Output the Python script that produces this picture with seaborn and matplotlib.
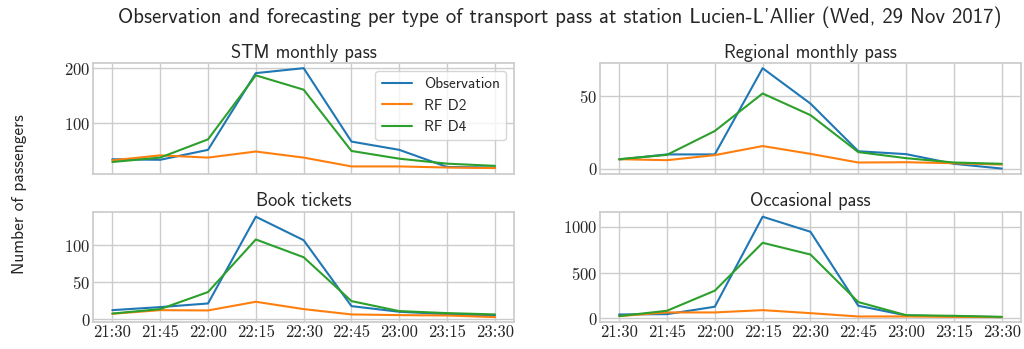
import matplotlib
matplotlib.use("Agg")
import matplotlib.pyplot as plt
import numpy as np
import pandas as pd
import seaborn as sns

# Time slots (15-minute intervals)
times = ["21:30", "21:45", "22:00", "22:15", "22:30", "22:45", "23:00", "23:15", "23:30"]

# STM monthly pass
stm_obs = [35, 34, 52, 191, 200, 67, 52, 21, 20]
stm_d2 = [33, 42, 38, 49, 38, 22, 22, 20, 19]
stm_d4 = [30, 38, 71, 187, 161, 50, 36, 27, 23]

# Regional monthly pass
reg_obs = [6.3, 9.8, 9.8, 69.5, 45, 12, 10, 3.3, 0]
reg_d2 = [6.5, 5.8, 9.3, 15.6, 10.2, 4.2, 4.4, 3.7, 2.8]
reg_d4 = [6.5, 9.5, 26, 52, 37, 11.4, 7.2, 4.2, 3.3]

# Book tickets
book_obs = [12.6, 16.7, 21.6, 138.7, 107, 18, 10.4, 7.2, 5]
book_d2 = [7.7, 12.6, 12.2, 23.9, 14, 6.8, 5.9, 5.4, 3.2]
book_d4 = [8, 14, 37, 108, 84, 24.8, 11.3, 8.6, 6.8]

# Occasional pass
occ_obs = [44, 47, 128, 1109, 945, 139, 33, 22, 15]
occ_d2 = [26, 66, 66, 91, 58, 22, 22, 18, 15]
occ_d4 = [26, 84, 303, 825, 697, 179, 36, 29, 18]

series_names = ["Observation", "RF D2", "RF D4"]
panels = [
    ("STM monthly pass", [stm_obs, stm_d2, stm_d4]),
    ("Regional monthly pass", [reg_obs, reg_d2, reg_d4]),
    ("Book tickets", [book_obs, book_d2, book_d4]),
    ("Occasional pass", [occ_obs, occ_d2, occ_d4]),
]

sns.set_theme(style="whitegrid")
plt.rcParams["font.family"] = ["cmss10", "DejaVu Sans"]
plt.rcParams["mathtext.fontset"] = "cm"
plt.rcParams["axes.unicode_minus"] = False

palette = sns.color_palette("tab10", 3)

fig, axes = plt.subplots(2, 2, figsize=(10.24, 3.49), dpi=100, sharex=True)
fig.subplots_adjust(left=0.091, right=0.997, top=0.819, bottom=0.077,
                    hspace=0.345, wspace=0.204)

x = np.arange(len(times))
for ax, (title, values) in zip(axes.flat, panels):
    frames = []
    for name, vals in zip(series_names, values):
        frames.append(pd.DataFrame({"slot": x, "passengers": vals, "series": name}))
    df = pd.concat(frames, ignore_index=True)
    sns.lineplot(data=df, x="slot", y="passengers", hue="series",
                 palette=palette, ax=ax, linewidth=1.5, legend=(ax is axes[0, 0]))
    ax.set_title(title, fontsize=13.2, pad=4)
    ax.set_xlabel("")
    ax.set_ylabel("")
    ax.set_xticks(x)
    ax.set_xticklabels(times)
    ax.yaxis.set_major_formatter(plt.FuncFormatter(lambda v, p: f"${v:.0f}$"))
    for lab in ax.get_xticklabels():
        lab.set_fontfamily("cmr10")
    ax.tick_params(axis="both", labelsize=12, pad=2, length=0)
    for s in ax.spines.values():
        s.set_color("0.8")

axes[0, 0].set_ylim(9, None)
axes[0, 0].set_yticks([100, 200])
axes[0, 1].set_yticks([0, 50])
axes[1, 0].set_yticks([0, 50, 100])
axes[1, 1].set_yticks([0, 500, 1000])

leg = axes[0, 0].legend(loc="upper right", fontsize=11, title=None,
                        frameon=True, borderpad=0.4, handlelength=2.0)

fig.suptitle("Observation and forecasting per type of transport pass at station Lucien-L'Allier (Wed, 29 Nov 2017)",
             fontsize=15, x=0.547, y=0.98)
fig.supylabel("Number of passengers", fontsize=12.5, x=0.012, y=0.445)

fig.savefig("out.png", dpi=100)
